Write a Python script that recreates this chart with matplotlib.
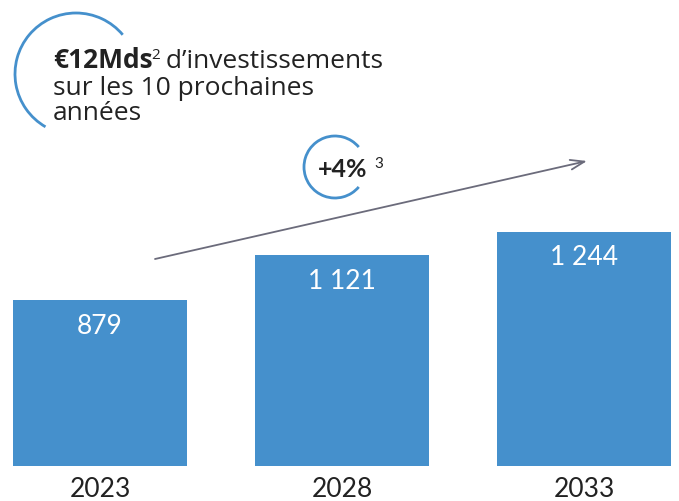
import matplotlib
matplotlib.use('Agg')
import matplotlib.pyplot as plt
from matplotlib.patches import Arc

# data
years = ['2023', '2028', '2033']
values = [879, 1121, 1244]
value_labels = ['879', '1 121', '1 244']
growth_label = '+4%'
headline_bold = '€12Mds'
headline_rest = ' d’investissements'
headline_lines = ['sur les 10 prochaines', 'années']

BLUE = '#4590CC'
DARK = '#222222'
GREY = '#6b6b7b'
FONT = ['Open Sans', 'DejaVu Sans']
LATO = ['Lato', 'DejaVu Sans']

W, H = 679, 501
fig = plt.figure(figsize=(W / 100, H / 100), dpi=100)

# bars, in value units (baseline at pixel 466, ~0.1885 px per unit)
ax = fig.add_axes([0, 0, 1, 1])
scale = 0.1885
ax.set_ylim(-(H - 466) / scale, 466 / scale)
step = 242
ax.set_xlim(-100 / step, (W - 100) / step)
x = list(range(len(values)))
ax.bar(x, values, width=174 / step, color=BLUE)
for xi, v, lab, yr in zip(x, values, value_labels, years):
    ax.annotate(lab, (xi, v), xytext=(0, -19), textcoords='offset points',
                ha='center', va='center', color='white', fontsize=19,
                family=LATO)
    ax.annotate(yr, (xi, 0), xytext=(0, -17), textcoords='offset points',
                ha='center', va='center', color=DARK, fontsize=19,
                family=LATO)
ax.axis('off')

# decorations in pixel coordinates (y from top)
ax2 = fig.add_axes([0, 0, 1, 1])
ax2.set_xlim(0, W)
ax2.set_ylim(H, 0)
ax2.axis('off')

ax2.add_patch(Arc((76, 74), 122, 122, theta1=120, theta2=320,
                  color=BLUE, lw=2))
ax2.add_patch(Arc((335, 167), 62, 62, theta1=40, theta2=320,
                  color=BLUE, lw=2))

ax2.annotate('', xy=(587, 161), xytext=(155, 259),
             arrowprops=dict(arrowstyle='->,head_length=1.0,head_width=0.35',
                             color=GREY, lw=1.3, shrinkA=0, shrinkB=0))

fig.canvas.draw()
r = fig.canvas.get_renderer()
inv = ax2.transData.inverted()

t = ax2.text(53, 68, headline_bold, fontsize=19, fontweight='bold',
             color=DARK, family=FONT, va='baseline')
x1 = inv.transform(t.get_window_extent(r).get_points())[1, 0]
t = ax2.text(x1 - 1, 59, '2', fontsize=11, color=DARK, family=FONT,
             va='baseline')
x2 = inv.transform(t.get_window_extent(r).get_points())[1, 0]
ax2.text(x2 - 1, 68, headline_rest, fontsize=19, color=DARK, family=FONT,
         va='baseline')
for i, line in enumerate(headline_lines):
    ax2.text(53, 95 + 25 * i, line, fontsize=19, color=DARK, family=FONT,
             va='baseline')

t = ax2.text(318, 177, growth_label, fontsize=18, fontweight='bold',
             color=DARK, family=LATO, va='baseline')
x3 = inv.transform(t.get_window_extent(r).get_points())[1, 0]
ax2.text(x3 + 7, 168, '3', fontsize=11, color=DARK, family=LATO,
         va='baseline')

fig.savefig('out.png', dpi=100)
